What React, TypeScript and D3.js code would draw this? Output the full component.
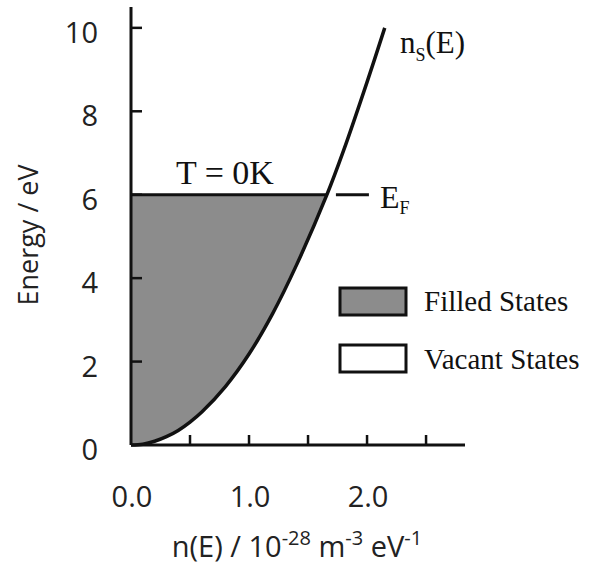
import React from "react";
import * as d3 from "d3";

// Density of states n(E) (10^28 m^-3 eV^-1)
const curveN = [0, 0.1, 0.2, 0.3, 0.4, 0.5, 0.6, 0.8, 1.0, 1.2, 1.4, 1.66, 1.8, 2.0, 2.15];
const curveE = [0, 0.02, 0.09, 0.2, 0.35, 0.55, 0.79, 1.4, 2.18, 3.15, 4.3, 6.0, 7.05, 8.7, 10.0];
const fermiEnergy = 6;
const xTickMarks = [0.5, 1.0, 1.5, 2.0, 2.5];
const xTickLabels = [0, 1, 2];
const yTickMarks = [2, 4, 6, 8, 10];
const yTickLabels = [0, 2, 4, 6, 8, 10];
const legendItems = ["Filled States", "Vacant States"];

const W = 598;
const H = 575;
const SANS = "'Open Sans', 'Noto Sans', sans-serif";
const SERIF = "'Liberation Serif', 'DejaVu Serif', serif";

export default function App() {
  const x = d3.scaleLinear().domain([0, 2.83]).range([131, 465]);
  const y = d3.scaleLinear().domain([0, 10.5]).range([445, 7]);

  const pts = curveN.map((n, i) => ({ n, e: curveE[i] }));
  const smooth = d3.curveCatmullRom.alpha(0.5);
  const line = d3
    .line<{ n: number; e: number }>()
    .x((d) => x(d.n))
    .y((d) => y(d.e))
    .curve(smooth);
  const filledPts = pts.filter((d) => d.e <= fermiEnergy);
  const area = d3
    .area<{ n: number; e: number }>()
    .x((d) => x(d.n))
    .y0(y(fermiEnergy))
    .y1((d) => y(d.e))
    .curve(smooth);
  const fermiN = filledPts[filledPts.length - 1].n;

  return (
    <svg
      width={W}
      height={H}
      style={{ position: "absolute", left: 0, top: 0, background: "#fff" }}
    >
      {/* filled states */}
      <path d={area(filledPts) || ""} fill="#8c8c8c" stroke="none" />

      {/* Fermi level line */}
      <line
        x1={x(0)}
        x2={x(fermiN)}
        y1={y(fermiEnergy)}
        y2={y(fermiEnergy)}
        stroke="#111"
        strokeWidth={3}
      />
      <line
        x1={x(fermiN) + 9}
        x2={x(fermiN) + 42}
        y1={y(fermiEnergy)}
        y2={y(fermiEnergy)}
        stroke="#111"
        strokeWidth={3}
      />

      {/* curve */}
      <path d={line(pts) || ""} fill="none" stroke="#111" strokeWidth={3.5} />

      {/* axes */}
      <line x1={x(0)} x2={x(0)} y1={y.range()[1]} y2={y(0)} stroke="#111" strokeWidth={3} />
      <line x1={x(0)} x2={x.range()[1]} y1={y(0)} y2={y(0)} stroke="#111" strokeWidth={3} />
      {xTickMarks.map((t) => (
        <line key={"xt" + t} x1={x(t)} x2={x(t)} y1={y(0)} y2={y(0) - 10} stroke="#111" strokeWidth={2.5} />
      ))}
      {yTickMarks.map((t) => (
        <line key={"yt" + t} x1={x(0)} x2={x(0) + 11} y1={y(t)} y2={y(t)} stroke="#111" strokeWidth={2.5} />
      ))}
      {xTickLabels.map((t) => (
        <text
          key={"xl" + t}
          x={x(t) + 1}
          y={507}
          textAnchor="middle"
          fontFamily={SANS}
          fontSize={29}
          fill="#222"
        >
          {t.toFixed(1)}
        </text>
      ))}
      {yTickLabels.map((t) => (
        <text
          key={"yl" + t}
          x={98}
          y={y(t) + 15}
          textAnchor="end"
          fontFamily={SANS}
          fontSize={29}
          fill="#222"
        >
          {t}
        </text>
      ))}

      {/* axis titles */}
      <text
        transform={`translate(38,235) rotate(-90)`}
        textAnchor="middle"
        fontFamily={SANS}
        fontSize={27}
        fill="#222"
      >
        Energy / eV
      </text>
      <text x={297} y={557} textAnchor="middle" fontFamily={SANS} fontSize={29} fill="#222">
        n(E) / 10
        <tspan fontSize={20} dy={-12}>-28</tspan>
        <tspan dy={12}> m</tspan>
        <tspan fontSize={20} dy={-12}>-3</tspan>
        <tspan dy={12}> eV</tspan>
        <tspan fontSize={20} dy={-12}>-1</tspan>
      </text>

      {/* annotations */}
      <text x={176} y={184} fontFamily={SERIF} fontSize={34} fill="#111">
        T = 0K
      </text>
      <text x={380} y={208} fontFamily={SERIF} fontSize={32} fill="#111">
        E<tspan fontSize={18} dy={6}>F</tspan>
      </text>
      <text x={400} y={53} fontFamily={SERIF} fontSize={31} fill="#111">
        n<tspan fontSize={18} dy={8}>S</tspan>
        <tspan dy={-8}>(E)</tspan>
      </text>

      {/* legend */}
      {legendItems.map((label, i) => (
        <g key={label}>
          <rect
            x={340}
            y={288 + i * 57}
            width={66}
            height={27}
            fill={i === 0 ? "#8c8c8c" : "#fff"}
            stroke="#111"
            strokeWidth={3}
          />
          <text x={424} y={311 + i * 58} fontFamily={SERIF} fontSize={29} fill="#111">
            {label}
          </text>
        </g>
      ))}
    </svg>
  );
}
